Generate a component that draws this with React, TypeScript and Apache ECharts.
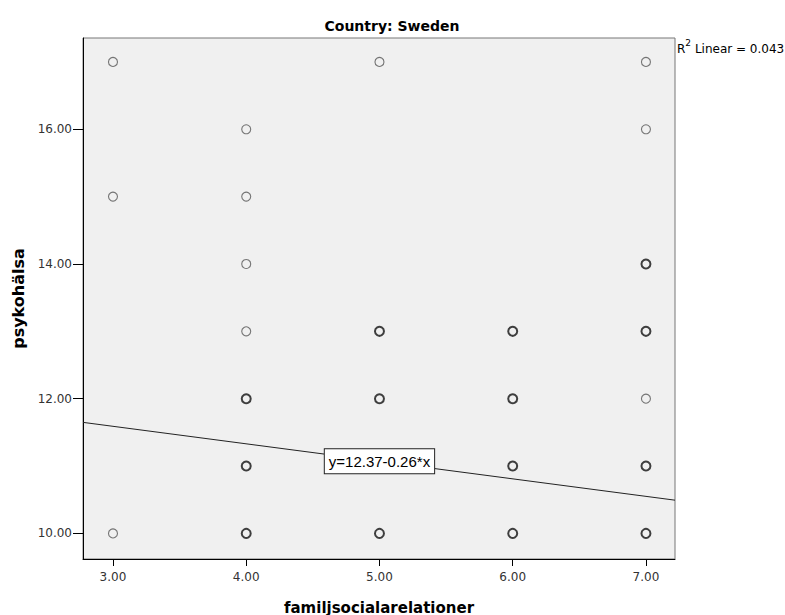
import React, { useEffect, useRef } from "react";
import * as echarts from "echarts";

// Observed cases: familjsocialarelationer (x) vs psykohälsa (y)
const xVals = [3, 3, 3, 4, 4, 4, 4, 4, 4, 4, 5, 5, 5, 5, 6, 6, 6, 6, 7, 7, 7, 7, 7, 7, 7];
const yVals = [17, 15, 10, 16, 15, 14, 13, 12, 11, 10, 17, 13, 12, 10, 13, 12, 11, 10, 17, 16, 14, 13, 12, 11, 10];
// number of cases stacked on the same coordinate
const caseCounts = [1, 1, 1, 1, 1, 1, 1, 3, 3, 3, 1, 3, 3, 3, 3, 3, 3, 3, 1, 1, 3, 3, 1, 3, 3];

const xTicks = [3, 4, 5, 6, 7];
const yTicks = [10, 12, 14, 16];

// Linear fit
const intercept = 12.37;
const slope = -0.26;
const rSquared = 0.043;

const X_MIN = 2.775;
const X_MAX = 7.218;
const Y_MIN = 9.62;
const Y_MAX = 17.355;

export default function App() {
  const ref = useRef<HTMLDivElement>(null);

  useEffect(() => {
    document.body.style.margin = "0";
    const chart = echarts.init(ref.current!, null, { renderer: "svg" });

    const points = xVals.map((x, i) => ({ x, y: yVals[i], n: caseCounts[i] }));
    const single = points.filter((p) => p.n === 1).map((p) => [p.x, p.y]);
    const multi = points.filter((p) => p.n > 1).map((p) => [p.x, p.y]);

    const fit = (x: number) => intercept + slope * x;
    const labelX = 5;

    chart.setOption({
      animation: false,
      backgroundColor: "#ffffff",
      title: {
        text: "Country: Sweden",
        left: 387,
        top: 14,
        textAlign: "center",
        textStyle: { fontFamily: "DejaVu Sans", fontWeight: "bold", fontSize: 14, color: "#000" },
      },
      grid: {
        left: 83,
        right: 110,
        top: 38,
        bottom: 56,
        outerBoundsMode: "none",
        containLabel: false,
        show: true,
        backgroundColor: "#f0f0f0",
        borderColor: "#777",
        borderWidth: 1,
      },
      xAxis: {
        type: "value",
        min: X_MIN,
        max: X_MAX,
        name: "familjsocialarelationer",
        nameLocation: "middle",
        nameGap: 41,
        nameTextStyle: { fontFamily: "DejaVu Sans", fontWeight: "bold", fontSize: 15, color: "#000" },
        axisLine: { show: true, onZero: false, lineStyle: { color: "#000", width: 1 } },
        axisTick: { show: true, length: 7, customValues: xTicks, lineStyle: { color: "#000" } },
        axisLabel: {
          customValues: xTicks,
          formatter: (v: number) => v.toFixed(2),
          fontFamily: "DejaVu Sans",
          fontSize: 12,
          color: "#333",
          margin: 12,
        },
        splitLine: { show: false },
      },
      yAxis: {
        type: "value",
        min: Y_MIN,
        max: Y_MAX,
        name: "psykohälsa",
        nameLocation: "middle",
        nameGap: 57,
        nameRotate: 90,
        nameTextStyle: { fontFamily: "DejaVu Sans", fontWeight: "bold", fontSize: 16, color: "#000" },
        axisLine: { show: true, onZero: false, lineStyle: { color: "#000", width: 1 } },
        axisTick: { show: true, length: 10, customValues: yTicks, lineStyle: { color: "#000" } },
        axisLabel: {
          customValues: yTicks,
          formatter: (v: number) => v.toFixed(2),
          fontFamily: "DejaVu Sans",
          fontSize: 12,
          color: "#333",
          margin: 11,
        },
        splitLine: { show: false },
      },
      series: [
        {
          type: "line",
          data: [
            [X_MIN, fit(X_MIN)],
            [X_MAX, fit(X_MAX)],
          ],
          symbol: "none",
          lineStyle: { color: "#222", width: 1 },
          z: 2,
          markPoint: {
            symbol: "rect",
            symbolSize: 0,
            data: [{ coord: [labelX, fit(labelX)] }],
            label: {
              show: true,
              position: "inside",
              formatter: `y=${intercept.toFixed(2)}${slope.toFixed(2)}*x`,
              fontFamily: "Liberation Sans",
              fontSize: 15,
              color: "#000",
              backgroundColor: "#fff",
              borderColor: "#222",
              borderWidth: 1,
              padding: [5, 4, 4, 4],
            },
          },
        },
        {
          type: "scatter",
          data: single,
          symbol: "circle",
          symbolSize: 9,
          itemStyle: { color: "transparent", borderColor: "#555", borderWidth: 1.1 },
          z: 3,
        },
        {
          type: "scatter",
          data: multi,
          symbol: "circle",
          symbolSize: 9,
          itemStyle: { color: "transparent", borderColor: "#111", borderWidth: 2 },
          z: 3,
        },
      ],
      graphic: [
        {
          type: "text",
          left: 677,
          top: 38,
          style: {
            text: `{r|R}{sup|2}{r| Linear = ${rSquared.toFixed(3)}}`,
            rich: {
              r: { fontFamily: "DejaVu Sans", fontSize: 12, color: "#000", verticalAlign: "bottom", lineHeight: 17 },
              sup: { fontFamily: "DejaVu Sans", fontSize: 9, color: "#000", verticalAlign: "top", lineHeight: 17 },
            },
          },
        },
      ],
    });

    return () => chart.dispose();
  }, []);

  return <div ref={ref} style={{ width: 785, height: 615 }} />;
}
